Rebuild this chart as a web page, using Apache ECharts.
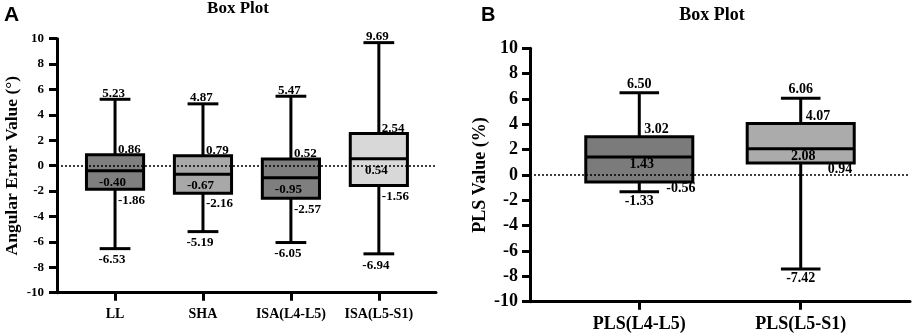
<!DOCTYPE html>
<html><head><meta charset="utf-8">
<script src="https://cdn.jsdelivr.net/npm/echarts@6/dist/echarts.min.js"></script>
<style>html,body{margin:0;padding:0;background:#fff}#c{width:913px;height:336px}</style>
</head><body><div id="c"></div>
<script>
// ---- Data: panel A ----
const categoriesA = ['LL', 'SHA', 'ISA(L4-L5)', 'ISA(L5-S1)'];
const minA    = [-6.53, -5.19, -6.05, -6.94];
const q1A     = [-1.86, -2.16, -2.57, -1.56];
const medianA = [-0.40, -0.67, -0.95, 0.54];
const q3A     = [0.86, 0.79, 0.52, 2.54];
const maxA    = [5.23, 4.87, 5.47, 9.69];
// ---- Data: panel B ----
const categoriesB = ['PLS(L4-L5)', 'PLS(L5-S1)'];
const minB    = [-1.33, -7.42];
const q1B     = [-0.56, 0.94];
const medianB = [1.43, 2.08];
const q3B     = [3.02, 4.07];
const maxB    = [6.50, 6.06];
// ---- Axis ticks ----
const yMin = -10, yMax = 10, yStep = 2;

const SERIF = '"Liberation Serif", "Times New Roman", serif';
const SANS = '"Liberation Sans", Arial, sans-serif';

const layoutA = {
  box: 0.65, cap: 0.35, lw: 3, font: 'bold 13px ' + SERIF,
  fills: ['#7f7f7f', '#a8a8a8', '#7f7f7f', '#d8d8d8'],
  off: { max: [-1.5, -6, 'center'], q3: [3, -5, 'left'], med: [-2.5, 11.7, 'center'], q1: [3, 11, 'left'], min: [-3, 11.5, 'center'] }
};
const layoutB = {
  box: 0.663, cap: 0.245, lw: 3, font: 'bold 14px ' + SERIF,
  fills: ['#7b7b7b', '#ababab'],
  off: { max: [0, -8.5, 'center'], q3: [5, -7, 'left'], med: [2.5, 8, 'center'], q1: [27, 6, 'left'], min: [0, 9.7, 'center'] }
};

function buildData(cats, mn, q1, md, q3, mx) {
  return cats.map((c, i) => [i, mn[i], q1[i], md[i], q3[i], mx[i]]);
}

function boxRenderer(L) {
  return function (params, api) {
    const i = api.value(0);
    const vals = [1, 2, 3, 4, 5].map(k => api.value(k)); // min,q1,med,q3,max
    const pts = vals.map(v => api.coord([i, v]));
    const cx = pts[0][0];
    const y = pts.map(p => p[1]);
    const bw = api.size([L.box, 0])[0];
    const cw = api.size([L.cap, 0])[0];
    const st = { stroke: '#000', lineWidth: L.lw };
    const line = (x1, y1, x2, y2) => ({ type: 'line', shape: { x1, y1, x2, y2 }, style: st });
    const txt = (v, key, yy) => {
      const o = L.off[key];
      return { type: 'text', z2: 20, style: { text: v.toFixed(2), x: cx + o[0], y: yy + o[1], align: o[2], verticalAlign: 'middle', font: L.font, fill: '#000' } };
    };
    return {
      type: 'group',
      children: [
        line(cx, y[4], cx, y[3]),
        line(cx, y[1], cx, y[0]),
        line(cx - cw / 2, y[4], cx + cw / 2, y[4]),
        line(cx - cw / 2, y[0], cx + cw / 2, y[0]),
        { type: 'rect', shape: { x: cx - bw / 2, y: y[3], width: bw, height: y[1] - y[3] }, style: { fill: L.fills[i], stroke: '#000', lineWidth: L.lw } },
        line(cx - bw / 2, y[2], cx + bw / 2, y[2]),
        txt(vals[4], 'max', y[4]),
        txt(vals[3], 'q3', y[3]),
        txt(vals[2], 'med', y[2]),
        txt(vals[1], 'q1', y[1]),
        txt(vals[0], 'min', y[0])
      ]
    };
  };
}

function xAxisCfg(gi, cats, min, max, fs, margin) {
  const idx = cats.map((c, i) => i);
  return {
    gridIndex: gi, type: 'value', min, max,
    axisLine: { show: true, onZero: false, lineStyle: { color: '#000', width: 3 } },
    axisTick: { show: true, customValues: idx, length: 8, lineStyle: { color: '#000', width: 3 } },
    axisLabel: { customValues: idx, formatter: v => cats[Math.round(v)] || '', margin, color: '#000', fontFamily: SERIF, fontWeight: 'bold', fontSize: fs },
    splitLine: { show: false }
  };
}
function yAxisCfg(gi, name, fs, nfs, margin, gap) {
  return {
    gridIndex: gi, type: 'value', min: yMin, max: yMax, interval: yStep,
    axisLine: { show: true, onZero: false, lineStyle: { color: '#000', width: 3 } },
    axisTick: { show: true, length: 8, lineStyle: { color: '#000', width: 3 } },
    axisLabel: { margin, color: '#000', fontFamily: SERIF, fontWeight: 'bold', fontSize: fs },
    splitLine: { show: false },
    name, nameLocation: 'middle', nameGap: gap,
    nameTextStyle: { color: '#000', fontFamily: SERIF, fontWeight: 'bold', fontSize: nfs }
  };
}
const zeroLine = {
  silent: true, symbol: 'none', label: { show: false },
  lineStyle: { color: '#000', type: [2, 2], width: 1.5 },
  data: [{ yAxis: 0 }]
};

const chart = echarts.init(document.getElementById('c'), null, { renderer: 'canvas' });
chart.setOption({
  backgroundColor: '#fff',
  animation: false,
  title: [
    { text: 'Box Plot', left: 238, top: 0, textAlign: 'center', padding: 0, textStyle: { fontFamily: SERIF, fontWeight: 'bold', fontSize: 17, lineHeight: 17, color: '#000' } },
    { text: 'Box Plot', left: 712, top: 6, textAlign: 'center', padding: 0, textStyle: { fontFamily: SERIF, fontWeight: 'bold', fontSize: 18, lineHeight: 18, color: '#000' } },
    { text: 'A', left: 4, top: 5, padding: 0, textStyle: { fontFamily: SANS, fontWeight: 'bold', fontSize: 21, lineHeight: 21, color: '#000' } },
    { text: 'B', left: 481, top: 5, padding: 0, textStyle: { fontFamily: SANS, fontWeight: 'bold', fontSize: 20, lineHeight: 20, color: '#000' } }
  ],
  grid: [
    { left: 57, right: 477, top: 38.7, bottom: 43.3, containLabel: false, outerBoundsMode: 'none' },
    { left: 530, right: 3, top: 48.3, bottom: 34.3, containLabel: false, outerBoundsMode: 'none' }
  ],
  xAxis: [
    xAxisCfg(0, categoriesA, -0.66, 3.65, 14, 15),
    xAxisCfg(1, categoriesB, -0.677, 1.677, 18, 14)
  ],
  yAxis: [
    yAxisCfg(0, 'Angular Error Value (°)', 13, 17.5, 13, 36),
    yAxisCfg(1, 'PLS Value (%)', 18, 18, 12, 41)
  ],
  series: [
    { type: 'custom', xAxisIndex: 0, yAxisIndex: 0, renderItem: boxRenderer(layoutA),
      data: buildData(categoriesA, minA, q1A, medianA, q3A, maxA), encode: { x: 0, y: [1, 5] }, markLine: zeroLine },
    { type: 'custom', xAxisIndex: 1, yAxisIndex: 1, renderItem: boxRenderer(layoutB),
      data: buildData(categoriesB, minB, q1B, medianB, q3B, maxB), encode: { x: 0, y: [1, 5] }, markLine: zeroLine }
  ]
});
</script></body></html>
